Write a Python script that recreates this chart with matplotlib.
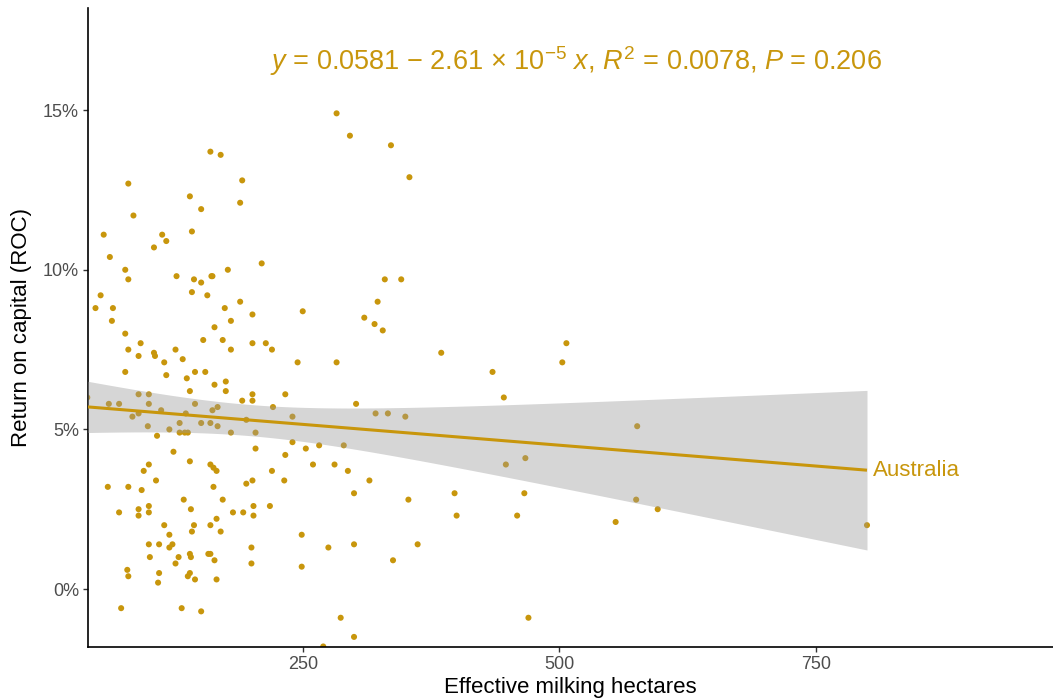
import numpy as np
import matplotlib
matplotlib.use("Agg")
import matplotlib.pyplot as plt
from matplotlib.ticker import FixedLocator, FuncFormatter

plt.rcParams["font.family"] = ["Liberation Sans", "DejaVu Sans"]
plt.rcParams["mathtext.fontset"] = "custom"
plt.rcParams["mathtext.rm"] = "Liberation Sans"
plt.rcParams["mathtext.it"] = "Liberation Sans:italic"
plt.rcParams["mathtext.sf"] = "Liberation Sans"

# Farm data: effective milking hectares vs return on capital (fraction)
hectares = [
    160, 170, 191, 80, 140, 189, 151, 85, 56, 113, 142, 117, 105, 62, 210, 77,
    177, 80, 127, 144, 151, 161, 162, 283, 296, 336, 354, 330, 346, 53, 48, 65,
    64, 142, 157, 174, 189, 201, 180, 164, 77, 92, 153, 172, 201, 214, 220, 80,
    90, 105, 106, 126, 180, 115, 133, 77, 145, 155, 117, 137, 164, 175, 175, 140,
    40, 90, 100, 201, 191, 201, 61, 71, 100, 145, 167, 162, 221, 112, 90, 84,
    136, 99, 130, 151, 160, 167, 120, 195, 130, 135, 138, 180, 204, 108, 204, 124,
    140, 100, 160, 163, 166, 95, 220, 107, 201, 60, 80, 93, 163, 195, 134, 172,
    100, 202, 218, 90, 71, 90, 100, 141, 182, 192, 202, 115, 144, 160, 166, 142,
    170, 120, 100, 110, 123, 120, 200, 129, 101, 140, 141, 158, 160, 164, 126, 200,
    79, 80, 110, 140, 138, 145, 166, 109, 73, 132, 151, 323, 250, 310, 320, 328,
    245, 283, 385, 233, 302, 240, 321, 333, 350, 240, 253, 266, 290, 233, 260, 281,
    294, 232, 315, 300, 353, 398, 400, 249, 275, 300, 362, 338, 249, 287, 300, 270,
    507, 503, 435, 446, 576, 467, 448, 466, 459, 575, 596, 555, 800, 470,
]
roc = [
    0.137, 0.136, 0.128, 0.127, 0.123, 0.121, 0.119, 0.117, 0.111, 0.111, 0.112, 0.109,
    0.107, 0.104, 0.102, 0.100, 0.100, 0.097, 0.098, 0.097, 0.096, 0.098, 0.098, 0.149,
    0.142, 0.139, 0.129, 0.097, 0.097, 0.092, 0.088, 0.088, 0.084, 0.093, 0.092, 0.088,
    0.090, 0.086, 0.084, 0.082, 0.080, 0.077, 0.078, 0.078, 0.077, 0.077, 0.075, 0.075,
    0.073, 0.074, 0.073, 0.075, 0.075, 0.071, 0.072, 0.068, 0.068, 0.068, 0.067, 0.066,
    0.064, 0.065, 0.062, 0.062, 0.060, 0.061, 0.061, 0.061, 0.059, 0.059, 0.058, 0.058,
    0.058, 0.058, 0.057, 0.056, 0.057, 0.056, 0.055, 0.054, 0.055, 0.051, 0.052, 0.052,
    0.052, 0.051, 0.050, 0.053, 0.049, 0.049, 0.049, 0.049, 0.049, 0.048, 0.044, 0.043,
    0.040, 0.039, 0.039, 0.038, 0.037, 0.037, 0.037, 0.034, 0.034, 0.032, 0.032, 0.031,
    0.032, 0.033, 0.028, 0.028, 0.026, 0.026, 0.026, 0.025, 0.024, 0.023, 0.024, 0.025,
    0.024, 0.024, 0.023, 0.020, 0.020, 0.020, 0.022, 0.018, 0.018, 0.017, 0.014, 0.014,
    0.014, 0.013, 0.013, 0.010, 0.010, 0.011, 0.010, 0.011, 0.011, 0.009, 0.008, 0.008,
    0.006, 0.004, 0.005, 0.005, 0.004, 0.003, 0.003, 0.002, -0.006, -0.006, -0.007, 0.090,
    0.087, 0.085, 0.083, 0.081, 0.071, 0.071, 0.074, 0.061, 0.058, 0.054, 0.055, 0.055,
    0.054, 0.046, 0.044, 0.045, 0.045, 0.042, 0.039, 0.039, 0.037, 0.034, 0.034, 0.030,
    0.028, 0.030, 0.023, 0.017, 0.013, 0.014, 0.014, 0.009, 0.007, -0.009, -0.015, -0.018,
    0.077, 0.071, 0.068, 0.060, 0.051, 0.041, 0.039, 0.030, 0.023, 0.028, 0.025, 0.021,
    0.020, -0.009,
]

# Reported linear fit
intercept = 0.0581
slope = -2.61e-5
r_squared = 0.0078
p_value = 0.206
group_label = "Australia"

x_ticks = [250, 500, 750]
y_ticks = [0.0, 0.05, 0.10, 0.15]

gold = "#C8960C"

x = np.asarray(hectares, dtype=float)
y = np.asarray(roc, dtype=float)
n = len(x)

# 95% confidence band around the fitted line
xs = np.linspace(x.min(), x.max(), 300)
fit = intercept + slope * xs
resid = y - (intercept + slope * x)
s = np.sqrt(np.sum(resid ** 2) / (n - 2))
sxx = np.sum((x - x.mean()) ** 2)
t_crit = 1.9716
se = s * np.sqrt(1.0 / n + (xs - x.mean()) ** 2 / sxx)

fig = plt.figure(figsize=(10.53, 7.0), dpi=100)
ax = fig.add_axes([88 / 1053, 53.3 / 700, (1053 - 88) / 1053, (646.7 - 8) / 700])

ax.scatter(x, y, s=19, color=gold, edgecolors="none", zorder=2)
ax.fill_between(xs, fit - t_crit * se, fit + t_crit * se, color="#999999",
                alpha=0.4, linewidth=0, zorder=3)
ax.plot(xs, fit, color=gold, linewidth=2.2, zorder=4, solid_capstyle="butt")

ax.text(xs[-1] + 6, fit[-1], group_label, color=gold, fontsize=16,
        ha="left", va="center", zorder=5)

eq = (r"$\it{y}$ = 0.0581 $-$ 2.61 $\times$ 10$^{-5}$ $\it{x}$, "
      r"$\it{R}^{2}$ = 0.0078, $\it{P}$ = 0.206")
ax.text(218, 0.1626, eq, color=gold, fontsize=19.5, ha="left", va="baseline")

ax.set_xlim(40.7, 981.3)
ax.set_ylim(-0.01807, 0.1820)

ax.xaxis.set_major_locator(FixedLocator(x_ticks))
ax.yaxis.set_major_locator(FixedLocator(y_ticks))
ax.yaxis.set_major_formatter(FuncFormatter(lambda v, _: f"{v * 100:.0f}%"))

for side in ("top", "right"):
    ax.spines[side].set_visible(False)
for side in ("left", "bottom"):
    ax.spines[side].set_linewidth(1.2)
    ax.spines[side].set_color("black")

ax.tick_params(axis="both", length=3.5, width=1.0, color="#333333",
               labelcolor="#4D4D4D", labelsize=13, pad=3)

ax.set_xlabel("Effective milking hectares", fontsize=16, color="black", labelpad=3)
ax.set_ylabel("Return on capital (ROC)", fontsize=16, color="black", labelpad=8)

fig.savefig("out.png", dpi=100)
